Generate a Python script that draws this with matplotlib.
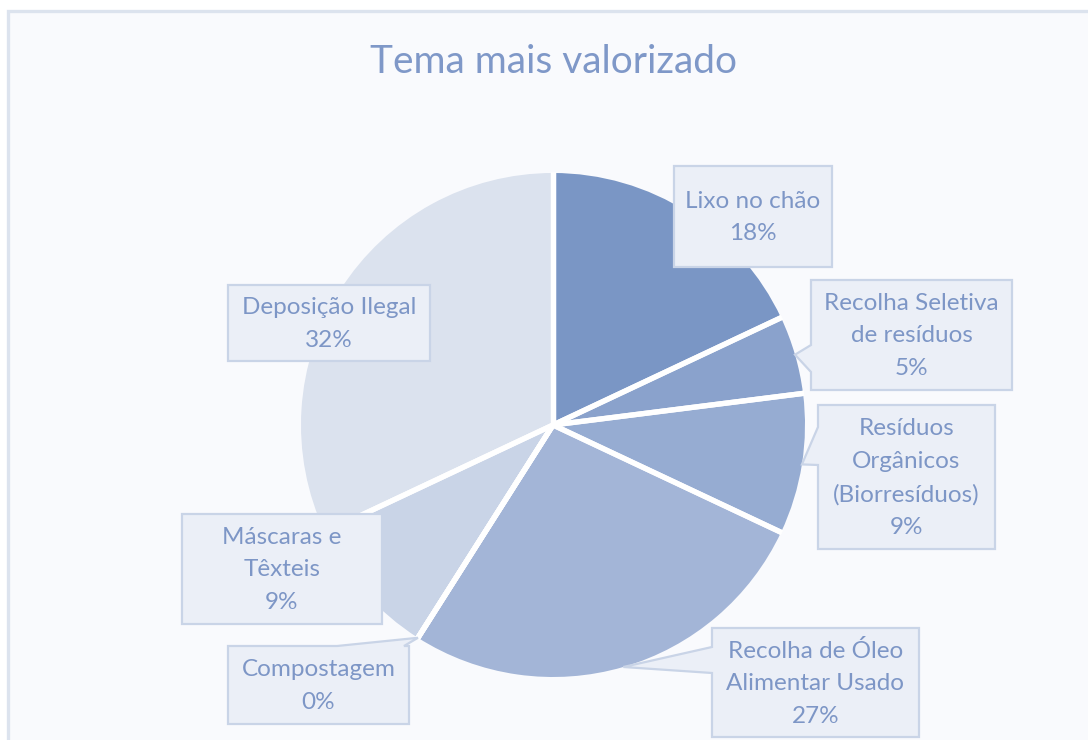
import matplotlib
matplotlib.use("Agg")
import matplotlib.pyplot as plt
from matplotlib.patches import Rectangle, Polygon
import numpy as np

# --- data -------------------------------------------------------------
categories = [
    "Lixo no chão",
    "Recolha Seletiva de resíduos",
    "Resíduos Orgânicos (Biorresíduos)",
    "Recolha de Óleo Alimentar Usado",
    "Compostagem",
    "Máscaras e Têxteis",
    "Deposição Ilegal",
]
label_text = [
    "Lixo no chão",
    "Recolha Seletiva\nde resíduos",
    "Resíduos\nOrgânicos\n(Biorresíduos)",
    "Recolha de Óleo\nAlimentar Usado",
    "Compostagem",
    "Máscaras e\nTêxteis",
    "Deposição Ilegal",
]
values = [18, 5, 9, 27, 0, 9, 32]
title = "Tema mais valorizado"

# --- style ------------------------------------------------------------
slice_colors = ["#7A96C5", "#8AA2CC", "#96ACD2", "#A3B5D7",
                "#B8C7E0", "#C9D4E7", "#DBE2EE"]
bg = "#F9FAFD"
text_col = "#7D96C6"
box_fill = "#EBEFF7"
box_edge = "#C9D4E7"

W, H = 1088, 740
cx, cy, R = 553, 425, 252          # pie centre / radius (pixels, y down)

# label boxes (x0, y0, x1, y1) in pixels, y down
boxes = [
    (674, 166, 832, 267),
    (811, 280, 1012, 390),
    (818, 405, 995, 549),
    (712, 628, 919, 737),
    (228, 646, 409, 724),
    (182, 514, 382, 624),
    (228, 285, 430, 361),
]
# callout notches: (side, a, b) or None
notches = [
    None,
    ("left", 345, 372),
    ("left", 427, 465),
    ("left", 647, 673),
    ("top", 337, 404),
    None,
    None,
]

fig = plt.figure(figsize=(W / 100, H / 100), dpi=100)
fig.patch.set_facecolor("white")
ax = fig.add_axes([0, 0, 1, 1])


def Y(y):
    return H - y


# chart area with its light frame
ax.add_patch(Rectangle((7.5, Y(1000)), 1200, Y(10.5) - Y(1000),
                       facecolor=bg, edgecolor="#DCE3EE", linewidth=2.4,
                       zorder=0))

wedges, _ = ax.pie(values, colors=slice_colors, startangle=90,
                   counterclock=False, center=(cx, Y(cy)), radius=R,
                   frame=True, wedgeprops=dict(linewidth=0))
for w in wedges:
    w.set_zorder(2)

# white separators between slices
for w in wedges:
    for th in (w.theta1, w.theta2):
        t = np.deg2rad(th)
        ax.plot([cx, cx + (R + 1) * np.cos(t)],
                [Y(cy), Y(cy) + (R + 1) * np.sin(t)],
                color="white", linewidth=3.8, solid_capstyle="butt",
                zorder=3)

ax.set_xlim(0, W)
ax.set_ylim(0, H)
ax.set_aspect("equal")
ax.axis("off")

ax.text(553, Y(62), title, ha="center", va="center", fontsize=28,
        color="#7F98C8", family="Lato")

total = sum(values)
for i, (w, lab, v) in enumerate(zip(wedges, label_text, values)):
    x0, y0, x1, y1 = boxes[i]
    mid = np.deg2rad((w.theta1 + w.theta2) / 2)
    tip = (cx + R * np.cos(mid), cy - R * np.sin(mid))
    n = notches[i]
    if n is None:
        verts = [(x0, y0), (x1, y0), (x1, y1), (x0, y1)]
    elif n[0] == "left":
        a, b = n[1], n[2]
        verts = [(x0, y0), (x1, y0), (x1, y1), (x0, y1), (x0, b), tip,
                 (x0, a)]
    else:
        a, b = n[1], n[2]
        verts = [(x0, y0), (a, y0), tip, (b, y0), (x1, y0), (x1, y1),
                 (x0, y1)]
    verts = [(x, Y(y)) for x, y in verts]
    ax.add_patch(Polygon(verts, closed=True, facecolor=box_fill,
                         edgecolor=box_edge, linewidth=1.6, zorder=4,
                         joinstyle="miter"))
    pct = f"{round(100 * v / total)}%"
    ax.text((x0 + x1) / 2, Y((y0 + y1) / 2 + 1), f"{lab}\n{pct}",
            ha="center", va="center", fontsize=17.5, color=text_col,
            family="Lato", linespacing=1.68, zorder=5)

fig.savefig("out.png", dpi=100, facecolor="white")
